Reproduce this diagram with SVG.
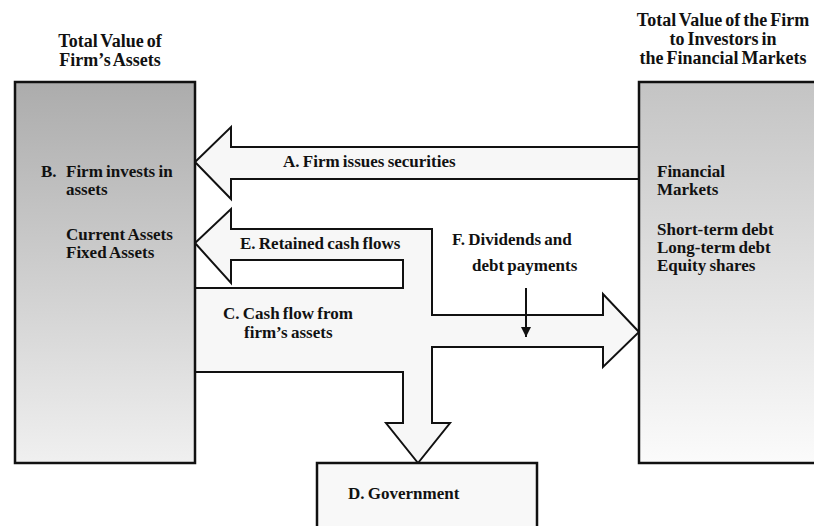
<svg xmlns="http://www.w3.org/2000/svg" width="814" height="526" viewBox="0 0 814 526">
<style>
text{font-family:"Liberation Serif","Times New Roman",serif;font-weight:bold;font-size:17px;fill:#111;word-spacing:-1px}
.hd{font-size:18px;word-spacing:-1.5px;text-anchor:middle}
.box{stroke:#111;stroke-width:2.5}
.flow{fill:#f7f7f7;stroke:#111;stroke-width:2;stroke-linejoin:miter}
</style>
<defs>
<linearGradient id="gl" x1="0" y1="0" x2="0" y2="1">
<stop offset="0" stop-color="#acacac"/>
<stop offset="1" stop-color="#f0f0f0"/>
</linearGradient>
<linearGradient id="gr" x1="0" y1="0" x2="0" y2="1">
<stop offset="0" stop-color="#c4c4c4"/>
<stop offset="1" stop-color="#fbfbfb"/>
</linearGradient>
<marker id="ah" viewBox="0 0 10 10" refX="10" refY="5" markerWidth="10" markerHeight="14" markerUnits="userSpaceOnUse" orient="auto">
<path d="M0,0 L10,5 L0,10 Z" fill="#111"/>
</marker>
</defs>
<rect width="814" height="526" fill="#fff"/>
<g id="connectors">
<path class="flow" d="M639,147 L231,147 L231,127 L195,162 L231,199 L231,179 L639,179"/>
<path class="flow" d="M195,288 L403,288 L403,260 L231,260 L231,283 L195,243 L231,209 L231,229 L432,229 L432,315 L603,315 L603,294 L639,332 L603,367 L603,347 L432,347 L432,423 L450,423 L418,463 L386,423 L403,423 L403,372 L195,372"/>
<line x1="526" y1="288" x2="526" y2="337" stroke="#111" stroke-width="2" marker-end="url(#ah)"/>
<text x="283" y="167">A. Firm issues securities</text>
<text x="240" y="249">E. Retained cash flows</text>
<text x="223" y="319">C. Cash flow from</text>
<text x="244" y="338">firm’s assets</text>
<text x="452" y="245">F. Dividends and</text>
<text x="472" y="271">debt payments</text>
</g>
<g id="firm-assets">
<text class="hd" x="110" y="47">Total Value of</text>
<text class="hd" x="110" y="66">Firm’s Assets</text>
<rect class="box" x="15" y="82" width="180" height="381" fill="url(#gl)"/>
<text x="41" y="177">B.</text>
<text x="66" y="177">Firm invests in</text>
<text x="66" y="195">assets</text>
<text x="66" y="240">Current Assets</text>
<text x="66" y="258">Fixed Assets</text>
</g>
<g id="financial-markets">
<text class="hd" x="723" y="26">Total Value of the Firm</text>
<text class="hd" x="723" y="45">to Investors in</text>
<text class="hd" x="723" y="64">the Financial Markets</text>
<rect class="box" x="639" y="82" width="190" height="381" fill="url(#gr)"/>
<text x="657" y="177">Financial</text>
<text x="657" y="195">Markets</text>
<text x="657" y="235">Short-term debt</text>
<text x="657" y="253">Long-term debt</text>
<text x="657" y="271">Equity shares</text>
</g>
<g id="government">
<rect class="box" x="317" y="463" width="220" height="80" fill="#f8f8f8"/>
<text x="348" y="499">D. Government</text>
</g>
</svg>
